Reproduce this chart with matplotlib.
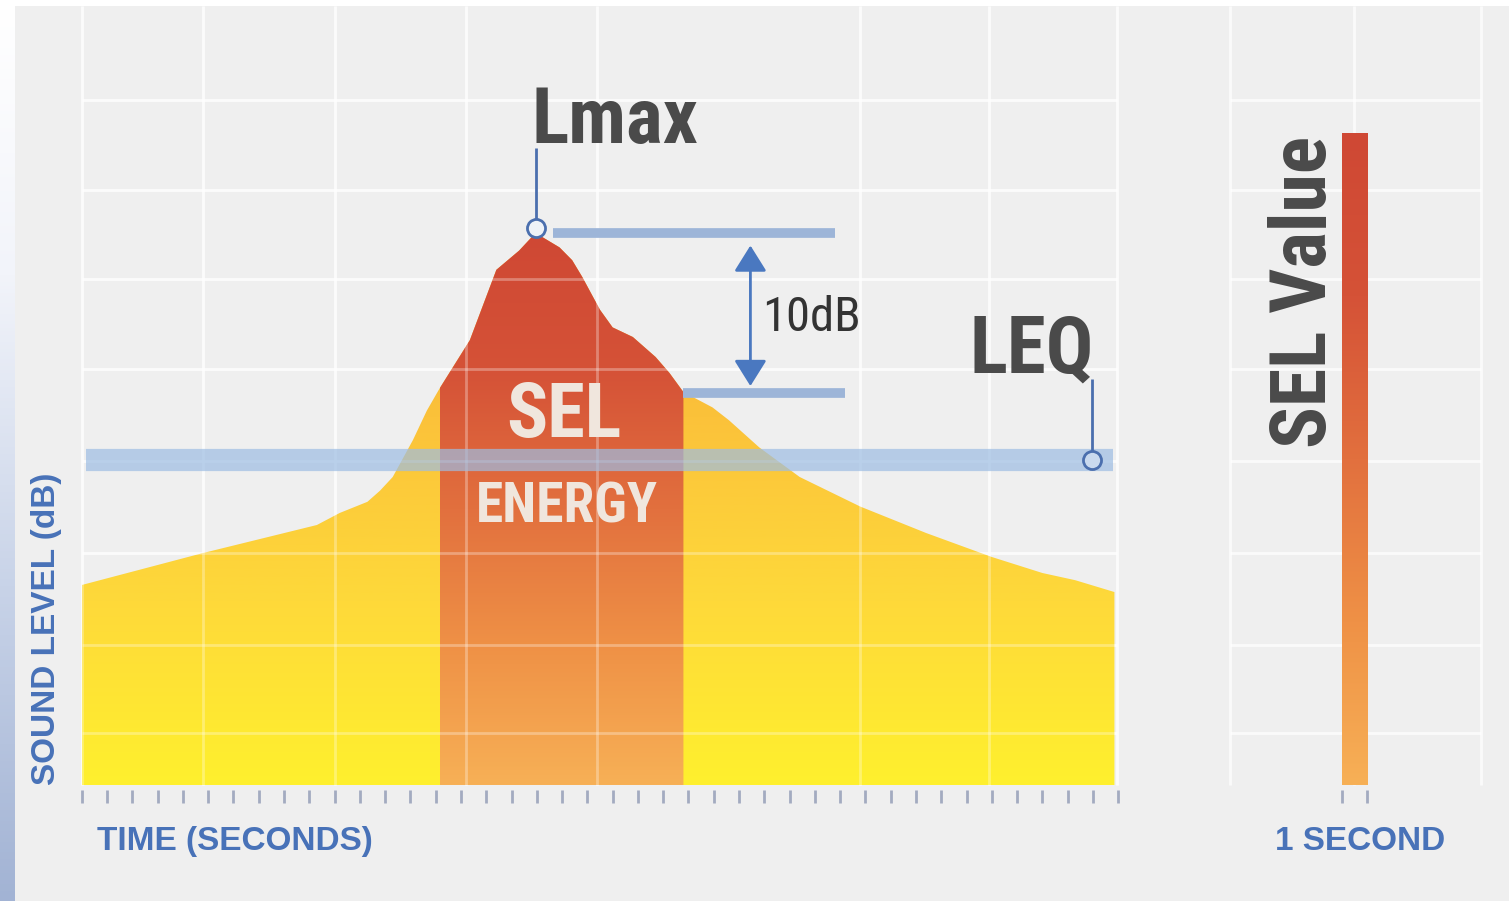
import numpy as np
import matplotlib
matplotlib.use('Agg')
import matplotlib.pyplot as plt
from matplotlib import font_manager as fm
from matplotlib.colors import LinearSegmentedColormap

# sound level trace (seconds, dB)
time_s = [0.0, 4.8, 9.3, 10.2, 11.3, 11.8, 12.3, 13.1, 13.65, 14.16, 15.35, 16.4,
          17.3, 17.95, 18.9, 19.4, 19.8, 20.5, 21.0, 21.8, 22.7, 23.25, 23.8, 24.95,
          25.6, 26.8, 28.4, 30.8, 33.4, 36.0, 38.0, 39.3, 40.85]
level_db = [52.5, 54.5, 56.25, 57.0, 57.7, 58.4, 59.25, 61.56, 63.4, 64.8, 67.8, 72.2,
            73.4, 74.5, 73.6, 72.8, 71.75, 69.7, 68.6, 68.0, 66.75, 65.75, 64.56, 63.6,
            62.8, 61.1, 59.25, 57.4, 55.75, 54.25, 53.25, 52.8, 52.06]

sel_window = [14.16, 23.8]      # part of the event within 10 dB of Lmax
leq_db = 60.3
sel_value_db = 80.75
floor_db = 40.0
x_ticks = list(range(0, 42))
x_grid = [0, 4.8, 10.0, 15.2, 20.4, 30.8, 35.9, 40.95]
y_grid = [43.25, 48.75, 54.5, 60.25, 66.0, 71.6, 77.2, 82.8]
right_x_grid = [-4.92, 0, 5.0]

t = np.array(time_s)
lv = np.array(level_db)
lmax_db = lv.max()
t_peak = t[lv.argmax()]

# a narrow face for the big labels if there is one, else shrink Liberation Sans a bit
names = {f.name for f in fm.fontManager.ttflist}
narrow = next((n for n in ['Liberation Sans Narrow', 'Roboto Condensed', 'Arial Narrow']
               if n in names), None)
if narrow:
    big = dict(family=[narrow, 'DejaVu Sans'])
    sz = dict(lmax=56, leq=57, tendb=35, sel=55, energy=40, selval=56)
else:
    big = dict(family=['Liberation Sans', 'DejaVu Sans'])
    sz = dict(lmax=50, leq=47, tendb=33, sel=47, energy=34, selval=51)

bg = '#efefef'
blue_txt = '#4872b8'
line_blue = '#4b6fae'
bar_blue = '#9db5d8'
dark = '#4a4a4a'

yellow_cmap = LinearSegmentedColormap.from_list('yel', ['#fff02e', '#fed93a', '#fbc23a', '#f6a936'])
red_cmap = LinearSegmentedColormap.from_list('red', ['#f7b056', '#ef9146', '#e2703e', '#d55237', '#cf4834'])

W, H = 1509, 901
fig = plt.figure(figsize=(W / 100, H / 100), dpi=100, facecolor=bg)

def fx(px):
    return px / W

def fy(py):
    return 1 - py / H

# white frame strip along the top and gradient strip at the left
fig.patches.append(plt.Rectangle((0, fy(6)), 1, 1 - fy(6), transform=fig.transFigure,
                                 facecolor='white', edgecolor='none', zorder=-5))
strip = fig.add_axes([0, 0, fx(15), fy(6)])
strip_cmap = LinearSegmentedColormap.from_list('strip', [(0, '#a2b3d4'), (0.35, '#c8d3e8'),
                                                         (0.7, '#f2f4fa'), (1, '#ffffff')])
strip.imshow(np.linspace(0, 1, 256).reshape(-1, 1), cmap=strip_cmap, aspect='auto',
             origin='lower', extent=[0, 1, 0, 1])
strip.axis('off')

ylo = floor_db - 5 / 16
yhi = floor_db + 779 / 16

# ---- main chart ----
ax = fig.add_axes([fx(78), fy(790), fx(1122) - fx(78), fy(6) - fy(790)])
ax.set_facecolor(bg)
ax.set_xlim(-0.15, 41.15)
ax.set_ylim(ylo, yhi)
for s in ax.spines.values():
    s.set_visible(False)

ax.vlines(x_grid, floor_db, yhi, color='white', lw=2, alpha=0.75, zorder=1)
ax.hlines(y_grid, x_grid[0], x_grid[-1], color='white', lw=2, alpha=0.75, zorder=1)

area = ax.fill_between(t, floor_db, lv, facecolor='none', edgecolor='none')
im = ax.imshow(np.linspace(0, 1, 256).reshape(-1, 1), cmap=yellow_cmap, aspect='auto',
               origin='lower', extent=[0, 41, floor_db, lmax_db], zorder=2)
im.set_clip_path(area.get_paths()[0], transform=ax.transData)

a, b = sel_window
ts = np.concatenate([[a], t[(t > a) & (t < b)], [b]])
ls = np.interp(ts, t, lv)
sel_area = ax.fill_between(ts, floor_db, ls, facecolor='none', edgecolor='none')
im2 = ax.imshow(np.linspace(0, 1, 256).reshape(-1, 1), cmap=red_cmap, aspect='auto',
                origin='lower', extent=[a, b, floor_db, lmax_db], zorder=3)
im2.set_clip_path(sel_area.get_paths()[0], transform=ax.transData)

# grid shows faintly through the fills
ax.vlines(x_grid, floor_db, yhi, color='white', lw=2, alpha=0.3, zorder=4)
ax.hlines(y_grid, x_grid[0], x_grid[-1], color='white', lw=2, alpha=0.3, zorder=4)

# LEQ band
ax.hlines(leq_db, 0.15, 40.8, color='#9dbde3', lw=16, alpha=0.7, zorder=5)
ax.vlines(39.97, leq_db + 0.5, 65.4, color=line_blue, lw=2, zorder=6)
ax.plot([39.97], [leq_db], 'o', ms=13, mfc='#c9d9ee', mec=line_blue, mew=2, zorder=7)
ax.text(40.05, 65.8, 'LEQ', ha='right', va='baseline', fontsize=sz['leq'], fontweight='bold',
        color=dark, zorder=8, **big)

# Lmax marker and 10 dB reference bars
ax.hlines(lmax_db, 18.63, 29.8, color=bar_blue, lw=7, zorder=5)
ax.hlines(lmax_db - 10, b, 30.2, color=bar_blue, lw=7, zorder=5)
ax.vlines(t_peak, lmax_db + 0.7, 79.8, color=line_blue, lw=2, zorder=6)
ax.plot([t_peak], [lmax_db + 0.3], 'o', ms=13, mfc='#eef2f8', mec=line_blue, mew=2, zorder=7)
ax.text(17.8, 80.1, 'Lmax', ha='left', va='baseline', fontsize=sz['lmax'], fontweight='bold',
        color=dark, zorder=8, **big)

ax.annotate('', xy=(26.45, lmax_db - 10), xytext=(26.45, lmax_db),
            arrowprops=dict(arrowstyle='<|-|>,head_length=1.6,head_width=1.0',
                            color='#4a78c0', lw=2, shrinkA=9, shrinkB=5, mutation_scale=10),
            zorder=6)
ax.text(26.9, 68.4, '10dB', ha='left', va='baseline', fontsize=sz['tendb'], color='#333333',
        zorder=8, **big)

ax.text(19.07, 61.75, 'SEL', ha='center', va='baseline', fontsize=sz['sel'], fontweight='bold',
        color='#f0e6dd', zorder=8, **big)
ax.text(19.2, 56.4, 'ENERGY', ha='center', va='baseline', fontsize=sz['energy'],
        fontweight='bold', color='#f0e6dd', zorder=8, **big)

ax.set_xticks(x_ticks)
ax.set_xticklabels([])
ax.set_yticks([])
ax.tick_params(axis='x', length=9.5, width=2, color='#a3abc0', direction='out')

# ---- 1 second SEL bar ----
ax2 = fig.add_axes([fx(1228), fy(790), fx(1484) - fx(1228), fy(6) - fy(790)])
ax2.set_facecolor(bg)
ax2.set_xlim(-5.0, 5.12)
ax2.set_ylim(ylo, yhi)
for s in ax2.spines.values():
    s.set_visible(False)
ax2.vlines(right_x_grid, floor_db, yhi, color='white', lw=2, alpha=0.75, zorder=1)
ax2.hlines(y_grid, right_x_grid[0], right_x_grid[-1], color='white', lw=2, alpha=0.75, zorder=1)

bar = ax2.bar(0, sel_value_db - floor_db, bottom=floor_db, width=1, color='none', zorder=2)
im3 = ax2.imshow(np.linspace(0, 1, 256).reshape(-1, 1), cmap=red_cmap, aspect='auto',
                 origin='lower', extent=[-0.5, 0.5, floor_db, sel_value_db], zorder=3)
im3.set_clip_path(bar.patches[0])
ax2.text(-1.95, 70.8, 'SEL Value', rotation=90, ha='center', va='center', fontsize=sz['selval'],
         fontweight='bold', color=dark, **big)
ax2.set_xticks([-0.5, 0.5])
ax2.set_xticklabels([])
ax2.set_yticks([])
ax2.tick_params(axis='x', length=9.5, width=2, color='#a3abc0', direction='out')

# axis captions
lab = dict(color=blue_txt, fontsize=24, fontweight='bold', family=['Liberation Sans', 'DejaVu Sans'])
fig.text(fx(97), fy(850), 'TIME (SECONDS)', ha='left', va='baseline', **lab)
fig.text(fx(1275), fy(850), '1 SECOND', ha='left', va='baseline', **lab)
fig.text(fx(47), fy(629), 'SOUND LEVEL (dB)', rotation=90, ha='center', va='center', **lab)

fig.savefig('out.png', dpi=100, facecolor=bg)
